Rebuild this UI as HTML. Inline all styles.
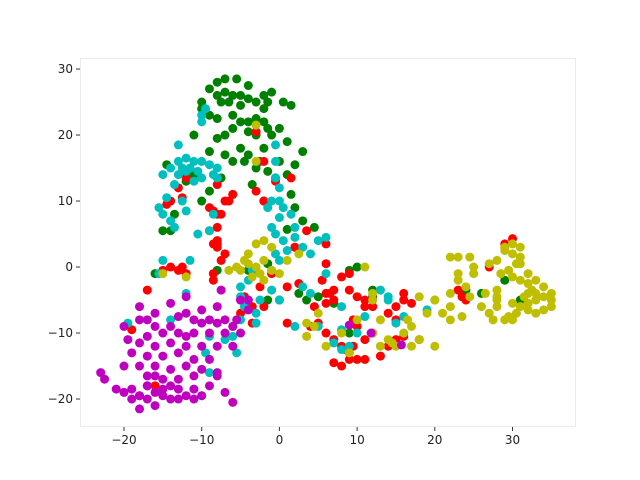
<!DOCTYPE html>
<html><head><meta charset="utf-8"><style>
body{margin:0;background:#fff}
svg{display:block;font-family:"DejaVu Sans","Liberation Sans",sans-serif}
</style></head><body>
<svg id="chart" width="640" height="480" viewBox="0 0 640 480">
<rect x="80.5" y="58.5" width="495" height="368" fill="#fff" stroke="#ebebeb" stroke-width="1"/>
<g id="axes"></g>
<g id="points"></g>
</svg>
<script>
const xTicks=[-20,-10,0,10,20,30];
const yTicks=[-20,-10,0,10,20,30];
const greenX=[-8,-7,-5.5,-4,-9,-8,-7,-6,-5,-4,-7.5,-6.5,-5,-3,-10,-10,-9,-8,-6,-5,-4,-3,-2,-6,-4,-3,-7,-8,-11,-9,-5,-4,-2,-1,-7,-6,-4.5,-2.5,-1.5,-0.5,1,2,1.5,2,3,1,4.5,-3,-2,-1.5,-1,0.5,-2,1.5,-1.5,0,1,3,0,-14.5,-12,-9,-11,-13.5,-14,-15,-6,-3.5,-7.5,-10,-2,-4,-1.5,2,-8,-16,0,2.5,5,7,9,10,12,12,24,26,29,31,9,-1.5,3.5];
const greenY=[28,28.5,28.5,27.5,27,26,26.5,26,26,25.5,25,25,24.5,25,25,24,23,22.5,23,22,22,22.5,22,21,20.5,20,20,19.5,20,17.5,18,17,18,20,17,16,16,16,14.5,13.5,14,15.5,11,9,7,5.7,6,15,26,25,26.5,25,24,24.5,21,21,19,17.5,16,15.5,13,11.5,14,8,5.5,5.5,11,12.5,13.5,10,10,-0.5,0.5,3,-0.5,-1,-5,-4,-4.5,-5.5,-0.5,0,-3.5,-4.5,-3.5,-4,-2,-5,-10,-5,-5];
const redX=[-8,-8.5,-7.5,-9,-7,-6.5,-9,-8,-8,-7,-8.5,-8,-8,-7.5,-13,-12,-12.5,-14,-14.5,-6,-3,-8,-2,-2,-0.5,1.5,2,3.5,6,-3,-13,-14,-12,-12.5,-15,-8.5,-8.5,-19,-17,-5,-4.5,-3.5,-3.5,-2.5,-1,1,2.5,1,6,8,9,5.5,6.5,7,6,9,10,11,11,12,4.5,5,6,7,4,6,7,8,8.5,9,10,11,7,8,9,9.5,11,10,9.5,12,13,14,15,16,15,14,15,16,17,16,12,18,23,23.5,24,30,29,27,-2,-18,-5,-16];
const redY=[8,8.5,8,9,10,10,5.5,4,3,2,3.5,3.5,6,1,12,13.5,10.5,10,9.5,11,11.5,12.5,10,16,13,13.5,3,5.5,3.5,20.5,-0.5,0,-1,0,-0.5,-1,-2,-9.5,-3.5,-5,-4.5,-8.5,-6,-3,-1,-3,-2.5,-8.5,0.5,-1.5,-1,-2,-4,-3.5,-4,-3.5,-4.5,-5,-6,-5,-6,-8.5,-5.5,-5,-9,-10,-11,-12,-12.5,-13,-14,-14,-14.5,-15,-14,-12,-11,-9,-8,-10,-13.5,-12,-11,-10.5,-8,-7,-6,-5,-5.5,-4,-6,-11,-3.5,-4.5,-5,4.3,3.5,0,-6,-19.5,-7,-18];
const cyanX=[-12,-13,-11,-10,-12.5,-11.5,-10.5,-9,-8,-14,-15,-13,-12,-11,-10,-8.5,-8,-13,-13.5,-14.5,-15.5,-15,-14,-13.5,-12.5,-12,-9,-8.5,-10.5,-11.5,-15,-15.5,-10,-9.5,-10,-0.5,-0.5,-0.5,0,0,0.5,0,-1,-0.5,0.5,1,-1.5,-1,1.5,2,-0.5,0,2,3,5,6,4,-4,-5,-5,-4,-2.5,-4.5,-3,-5,-3,-6,-6,-7,-9,-14,-12,-19.5,-10,-9,-9.5,-5.5,0,-1,3,6,4,8,2,5,8,10,9,7,8,13,14,14,11,15,16,20,19,-1,-3.5];
const cyanY=[16.5,16,16,16,15,15,14.5,15.5,15,15,14,14,14.5,13,13.5,14,13.5,18.5,12.5,10.5,9,8,7,6,10,8.5,5.5,8,5,1,1,-1,22,24,23,18.5,16,13.5,12,10,9,7.5,6,5,4,2.5,9,10,8,6,2,1,4.5,3,4,4.5,2,-2,-3,-4.5,-5,-5,-6,-7,-8,-8.5,-9,-10.5,-11,-10.5,-8,-4,-8.5,-19.5,-16,-13,-13,-5,-3.5,-3,-1,-4,-6,-9,-9,-9.5,-10,-12,-11.5,-12.5,-3.5,-5,-4.5,-7.5,-8.5,-7.5,-5,-6.5,-0.5,-0.5];
const yellowX=[-3,-3,-2,-3,-1,-4,-4.5,-3,-2,-5.5,-5,-6.5,-3.5,-4,-2.5,-12,-15,-2,0,-1,1,2.5,5,3.5,4.5,3.5,6,8,9,10,11,12,13,12,13,14,14.5,15,16,17,18,20,16.5,17,19,20,22,21,18,12,22,23,24.5,25,25,24,24.5,26,28,29,30,27,28,28,28.5,27,28,29,29,30,31,31,30.5,29.5,30,31,32,32.5,33,34,35,35,34,33,32,31,30,31.5,32,33,34,33,32,31,30,32,35,30.5,29.5,26.5,22,23,23,23.5,22,28,27.5];
const yellowY=[21.5,16,4,3.5,3,2,1,0,1,0,-0.5,-0.5,-1.5,0.5,-1,-1.5,-1,-2,-1,-0.5,1,2,-7,-8.5,-9,-10.5,-12,-10,-13,-8,0,-4,-8,-10,-12,-11,-11.5,-12,-10,-12,-11,-12,-8,-9,-7,-5,-6,-7,-4.5,-5,1.5,1.5,1.5,0,-1,-3,-4.5,-6,-6,-8,-8,-7,-5,-3.5,-1,0.5,1,2.5,3,3.5,3,1.5,0.5,-0.5,-1.5,-2,-2.5,-3.5,-4,-4.5,-5,-6,-6.5,-7,-6.5,-6,-5.5,-4.5,-5.5,-5,-3,-2,-1,0.5,2,-4,-4,-7,-7.5,-4,-4,-2,-1,-7.5,-8,-4.5,-8];
const magentaX=[-20,-18,-17,-16,-14,-13,-12,-11,-10,-9,-8,-7,-6,-7,-9,-11,-13,-15,-17,-18,-16,-14,-12,-10,-8,-9,-11,-13,-15,-17,-19,-18,-16,-14,-12,-10,-8,-16,-13,-11,-9,-11,-14,-17,-19,-20,-19,-18,-17,-16,-15,-14,-16,-18,-21,-23,-22.5,-12,-8,-7,-6,-18,-14,-12,-10,-7.5,-5,-4,-5.5,-5,-6,-4,-13,-15,-20,-11,-10,-17,-12,-19.5,-8,-16,9,11.8,15.7,-17,-15,-13];
const magentaY=[-9,-8,-8,-9,-9,-7.5,-7,-8,-8.5,-8,-8.5,-8,-9,-10,-10,-10,-10,-10,-10.5,-11.5,-12,-11.5,-12,-12,-12,-14,-14,-13,-13.5,-13.5,-13,-15,-15,-15.5,-15,-15.5,-16,-16.5,-17,-16.5,-18,-18.5,-18,-18,-18.5,-19,-20,-19.5,-20,-19,-19.5,-20,-21,-21.5,-18.5,-16,-17,-19.5,-16.5,-19,-20.5,-6,-5.5,-4.5,-6.5,-3.5,-5,-6.5,-8,-10,-12,-5,-18.5,-17,-15,-20,-19.5,-16.5,-10.5,-11,-6,-7,-8.8,-10,-11.8,-18,-18.5,-20];

const X0=80,X1=576,Y0=58,Y1=427;
const xMin=-25.66,xMax=38.17,yMin=-24.24,yMax=31.67;
function sx(v){return X0+(v-xMin)/(xMax-xMin)*(X1-X0);}
function sy(v){return Y1-(v-yMin)/(yMax-yMin)*(Y1-Y0);}
const NS='http://www.w3.org/2000/svg';
const axes=document.getElementById('axes');
const pts=document.getElementById('points');
function mk(tag,attrs,parent){const e=document.createElementNS(NS,tag);for(const k in attrs)e.setAttribute(k,attrs[k]);parent.appendChild(e);return e;}
xTicks.forEach(t=>{
  const x=sx(t);
  const l=mk('line',{x1:x,x2:x,y1:Y1,y2:Y1+4,stroke:'#333','stroke-width':1},axes);
  
  
  const tx=mk('text',{x:x,y:Y1+17,'text-anchor':'middle','font-size':12,fill:'#222'},axes);
  
  
  tx.textContent=t<0?'\u2212'+Math.abs(t):t;
});
yTicks.forEach(t=>{
  const y=sy(t);
  const l=mk('line',{x1:X0-4,x2:X0,y1:y,y2:y,stroke:'#333','stroke-width':1},axes);
  
  
  const tx=mk('text',{x:X0-7,y:y+4,'text-anchor':'end','font-size':12,fill:'#222'},axes);
  
  
  tx.textContent=t<0?'\u2212'+Math.abs(t):t;
});
const series=[['green',greenX,greenY,'#008000'],['red',redX,redY,'#ff0000'],['cyan',cyanX,cyanY,'#00bfbf'],['yellow',yellowX,yellowY,'#bfbf00'],['magenta',magentaX,magentaY,'#bf00bf']];
series.forEach(s=>{
  const g=mk('g',{},pts);
  
  
  s[1].forEach((v,i)=>{
    const c=mk('circle',{cx:sx(v),cy:sy(s[2][i]),r:4.5,fill:s[3]},g);
    
    
  });
});
</script>
</body></html>
